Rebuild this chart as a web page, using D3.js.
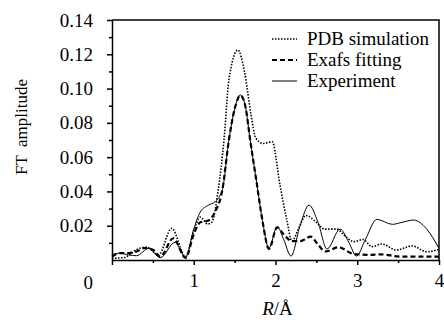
<!DOCTYPE html>
<html>
<head>
<meta charset="utf-8">
<script src="https://cdn.jsdelivr.net/npm/d3@7"></script>
<style>
	body { margin: 0; background: #fff; }
	svg { display: block; }
	svg text { font-family: "Liberation Serif", "Times New Roman", Times, serif; fill: #000; }
	.tick-label { font-size: 19px; }
	.legend-label { font-size: 19px; }
	.axis-title { font-size: 17px; }
	.x-title { font-size: 19px; }
</style>
</head>
<body>
<div id="chart"></div>
<script>
// R (Å) and FT amplitude for each curve
const expR = [0, 0.1, 0.2, 0.3, 0.45, 0.59, 0.77, 0.9, 1.0, 1.08, 1.18, 1.26, 1.35, 1.43, 1.5, 1.57, 1.63, 1.69, 1.77, 1.84, 1.92, 2.02, 2.1, 2.19, 2.3, 2.41, 2.52, 2.63, 2.79, 2.9, 2.99, 3.1, 3.24, 3.43, 3.55, 3.69, 3.85, 4.0];
const expV = [0.003, 0.004, 0.003, 0.0025, 0.0068, 0.0013, 0.0103, 0.0015, 0.018, 0.028, 0.032, 0.034, 0.041, 0.07, 0.088, 0.0963, 0.09, 0.07, 0.045, 0.023, 0.0068, 0.0195, 0.012, 0.0023, 0.02, 0.032, 0.022, 0.0064, 0.018, 0.01, 0.0023, 0.012, 0.0237, 0.0208, 0.022, 0.0233, 0.018, 0.0068];

const fitR = [0, 0.1, 0.2, 0.3, 0.4, 0.5, 0.59, 0.75, 0.9, 1.0, 1.08, 1.18, 1.26, 1.35, 1.43, 1.5, 1.57, 1.63, 1.69, 1.77, 1.84, 1.92, 2.02, 2.1, 2.2, 2.3, 2.43, 2.52, 2.61, 2.77, 2.96, 3.14, 3.28, 3.53, 3.78, 4.0];
const fitV = [0.002, 0.004, 0.004, 0.005, 0.007, 0.006, 0.002, 0.0127, 0.0012, 0.015, 0.022, 0.023, 0.028, 0.041, 0.07, 0.088, 0.096, 0.09, 0.07, 0.045, 0.023, 0.0065, 0.019, 0.015, 0.011, 0.011, 0.0136, 0.009, 0.005, 0.0074, 0.0035, 0.003, 0.0033, 0.002, 0.002, 0.002];

const pdbR = [0, 0.15, 0.3, 0.42, 0.57, 0.73, 0.9, 1.0, 1.08, 1.17, 1.22, 1.3, 1.37, 1.43, 1.54, 1.62, 1.7, 1.76, 1.85, 1.96, 2.05, 2.14, 2.2, 2.28, 2.37, 2.5, 2.6, 2.75, 2.85, 2.96, 3.07, 3.18, 3.3, 3.48, 3.67, 3.85, 4.0];
const pdbV = [0.001, 0.0015, 0.006, 0.0075, 0.003, 0.0185, 0.002, 0.017, 0.025, 0.021, 0.022, 0.041, 0.07, 0.105, 0.1225, 0.11, 0.085, 0.071, 0.068, 0.069, 0.045, 0.023, 0.011, 0.018, 0.026, 0.022, 0.018, 0.018, 0.014, 0.0107, 0.012, 0.0078, 0.0093, 0.0058, 0.0082, 0.0048, 0.0062];

const seriesNames = ["PDB simulation", "Exafs fitting", "Experiment"];
const yTicks = [0.02, 0.04, 0.06, 0.08, 0.10, 0.12, 0.14];
const xTicks = [1, 2, 3, 4];

const fullWidth = 444, fullHeight = 324;
const margin = { top: 20, right: 5, bottom: 64, left: 112 };
const width = fullWidth - margin.left - margin.right;
const height = fullHeight - margin.top - margin.bottom;

const svg = d3.select("#chart").append("svg")
	.attr("width", fullWidth)
	.attr("height", fullHeight);

const g = svg.append("g")
	.attr("transform", "translate(" + margin.left + "," + margin.top + ")");

const x = d3.scaleLinear().domain([0, 4]).range([0, width]);
const y = d3.scaleLinear().domain([0, 0.14]).range([height, 0]);

// frame on top and right
g.append("path")
	.attr("d", "M0,0H" + width + "V" + height)
	.attr("fill", "none")
	.attr("stroke", "#000")
	.attr("stroke-width", 1.5);

// minor ticks
g.append("g")
	.attr("transform", "translate(0," + height + ")")
	.call(d3.axisBottom(x).tickValues(d3.range(0.5, 4, 1)).tickSize(3).tickFormat(""))
	.call(a => a.select(".domain").remove());
g.append("g")
	.call(d3.axisLeft(y).tickValues(d3.range(0.01, 0.14, 0.02)).tickSize(3).tickFormat(""))
	.call(a => a.select(".domain").remove());

// X axis
const xAxis = g.append("g")
	.attr("transform", "translate(0," + height + ")")
	.call(d3.axisBottom(x).tickValues([0].concat(xTicks)).tickSize(5).tickSizeOuter(0)
		.tickFormat(d => d === 0 ? "" : d));

// Y axis
const yAxis = g.append("g")
	.call(d3.axisLeft(y).tickValues(yTicks).tickSize(5).tickSizeOuter(0)
		.tickFormat(d3.format(".2f")));

// d3 puts sans-serif / 10px on the axis groups, drop that
g.selectAll("g").attr("font-family", null).attr("font-size", null);
xAxis.selectAll("text").classed("tick-label", true).attr("dy", "0.95em").attr("y", 9);
yAxis.selectAll("text").classed("tick-label", true).attr("x", -19);
g.selectAll(".domain, .tick line").attr("stroke-width", 1.5);

// origin label
g.append("text")
	.classed("tick-label", true)
	.attr("x", -19)
	.attr("y", height + 29)
	.attr("text-anchor", "end")
	.text("0");

// axis titles
svg.append("text")
	.classed("axis-title", true)
	.attr("transform", "rotate(-90)")
	.attr("x", -127)
	.attr("y", 27)
	.attr("text-anchor", "middle")
	.attr("xml:space", "preserve")
	.text("FT  amplitude");

const xTitle = svg.append("text")
	.classed("x-title", true)
	.attr("x", margin.left + width / 2 + 2)
	.attr("y", 315)
	.attr("text-anchor", "middle");
xTitle.append("tspan").attr("font-style", "italic").text("R");
xTitle.append("tspan").text("/Å");

// curves
const styles = [
	{ r: pdbR, v: pdbV, dash: "1.5,1.5", w: 1.6 },
	{ r: fitR, v: fitV, dash: "5,3", w: 2.2 },
	{ r: expR, v: expV, dash: null, w: 1 }
];
const line = d3.line()
	.x(d => x(d[0]))
	.y(d => y(d[1]))
	.curve(d3.curveMonotoneX);

styles.forEach(s => {
	g.append("path")
		.datum(s.r.map((r, i) => [r, s.v[i]]))
		.attr("d", line)
		.attr("fill", "none")
		.attr("stroke", "#000")
		.attr("stroke-width", s.w)
		.attr("stroke-dasharray", s.dash);
});

// legend
const legend = svg.append("g").attr("transform", "translate(272,39)");
const legendItem = legend.selectAll("g")
	.data(seriesNames)
	.enter()
	.append("g")
	.attr("transform", (d, i) => "translate(0," + (i * 21) + ")");
legendItem.append("line")
	.attr("x1", 0).attr("x2", 25)
	.attr("y1", 0).attr("y2", 0)
	.attr("stroke", "#000")
	.attr("stroke-width", (d, i) => styles[i].w)
	.attr("stroke-dasharray", (d, i) => styles[i].dash);
legendItem.append("text")
	.classed("legend-label", true)
	.attr("x", 35)
	.attr("y", 6)
	.text(d => d);
</script>
</body>
</html>
